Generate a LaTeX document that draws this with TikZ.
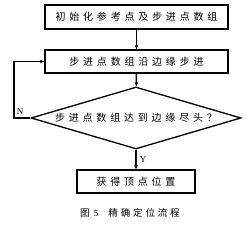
\documentclass[tikz,border=0pt]{standalone}
\usepackage{fontspec}
\setmainfont{Liberation Serif}
\newfontfamily\cjk[LetterSpace=38]{Noto Sans CJK SC}
\newfontfamily\cjkcap[LetterSpace=30]{Noto Sans CJK SC}
\usetikzlibrary{arrows.meta,positioning,shapes.geometric}

\tikzset{
  paso/.style={draw,line width=1.3pt,inner sep=0pt,font=\cjk\fontsize{10}{12}\selectfont},
  flecha/.style={line width=1.3pt,-{Stealth[length=4.5pt,width=3.5pt]}}
}

\begin{document}
\begin{tikzpicture}[x=1pt,y=-1pt]
        \useasboundingbox (0,0) rectangle (250,227);
        % pasos
        \node[paso,minimum width=183pt,minimum height=24pt] (ini) at (136.5,17) {初始化参考点及步进点数组};
        \node[paso,minimum width=183pt,minimum height=23pt] (paso) at (136.5,61.5) {步进点数组沿边缘步进};
        \node[paso,diamond,aspect=3.4,minimum width=210pt,minimum height=62pt] (cond) at (136,118) {步进点数组达到边缘尽头？};
        \node[paso,minimum width=118pt,minimum height=23pt] (fin) at (136,181.5) {获得顶点位置};
        \coordinate (vuelta) at (14,118);
        % conexiones
        \draw[flecha] (ini) -- (paso);
        \draw[flecha] (paso) -- (cond);
        \draw[flecha] (cond) -- (fin) node[pos=0.5,right=0pt,font=\small] {Y};
        \draw[flecha] (cond.west) -- (vuelta) |- (paso.west);
        \node[font=\small] (no) at (20,112) {N};
        % pie
        \node[font=\cjkcap\fontsize{9.5}{11}\selectfont] (pie) at (130,213) {图\hspace{4pt}{\rmfamily 5}\hspace{10pt}精确定位流程};
      \end{tikzpicture}
\end{document}
